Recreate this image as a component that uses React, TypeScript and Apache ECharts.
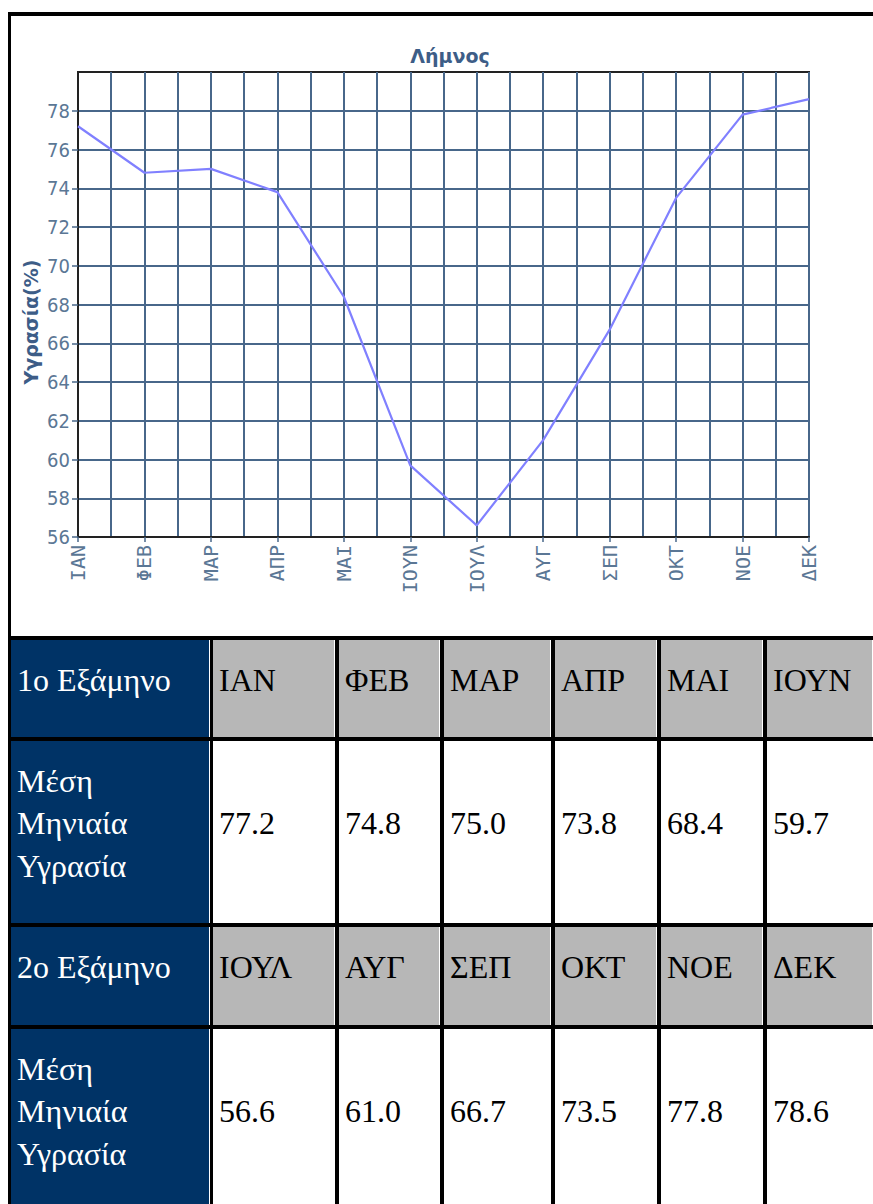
import React, { useEffect, useRef } from "react";
import * as echarts from "echarts";

const chartTitle = "Λήμνος";
const yAxisName = "Υγρασία(%)";
const axisMonths = ["ΙΑΝ", "ΦΕΒ", "ΜΑΡ", "ΑΠΡ", "ΜΑΙ", "ΙΟΥΝ", "ΙΟΥΛ", "ΑΥΓ", "ΣΕΠ", "ΟΚΤ", "ΝΟΕ", "ΔΕΚ"];
const humidity = [77.2, 74.8, 75.0, 73.8, 68.4, 59.7, 56.6, 61.0, 66.7, 73.5, 77.8, 78.6];
const yTickLabels = [56, 58, 60, 62, 64, 66, 68, 70, 72, 74, 76, 78];
const halfLabels = ["1ο Εξάμηνο", "2ο Εξάμηνο"];
const rowLabel = ["Μέση", "Μηνιαία", "Υγρασία"];

const GRID = "#48678a";
const LABEL = "#5b7795";
const NAVY = "#003366";
const GRAY = "#b7b7b7";

// column spans (page x) for table cells
const colX = [
  [11, 210],
  [213, 335],
  [339, 440],
  [444, 551],
  [555, 657],
  [661, 763],
  [767, 873],
];
const rowY = [
  [640, 737],
  [741, 923],
  [927, 1025],
  [1029, 1211],
];

function Cell(props: { x: number[]; y: number[]; bg: string; color: string; children: any }) {
  const { x, y, bg, color, children } = props;
  return (
    <div
      style={{
        position: "absolute",
        left: x[0] - 8,
        top: y[0] - 12,
        width: x[1] - x[0],
        height: y[1] - y[0],
        background: bg,
        color,
        boxSizing: "border-box",
        borderRight: "1px solid #ffffff",
        display: "flex",
        alignItems: "center",
        paddingLeft: 6,
        paddingBottom: 17,
        fontFamily: "'Liberation Serif', 'Times New Roman', serif",
        fontSize: 32,
        lineHeight: "42.5px",
        whiteSpace: "nowrap",
      }}
    >
      <div>{children}</div>
    </div>
  );
}

export default function App() {
  const ref = useRef<HTMLDivElement>(null);

  useEffect(() => {
    if (!ref.current) return;
    const chart = echarts.init(ref.current, null, { renderer: "svg" });
    chart.setOption({
      animation: false,
      backgroundColor: "#ffffff",
      title: {
        text: chartTitle,
        left: 434,
        top: 25,
        textAlign: "center",
        textStyle: { fontFamily: "'DejaVu Sans'", fontWeight: "bold", fontSize: 19, color: "#3d5d87" },
      },
      grid: {
        left: 67,
        top: 56,
        right: 64,
        bottom: 99,
        show: true,
        borderColor: "#222222",
        borderWidth: 2,
        backgroundColor: "#ffffff",
      },
      xAxis: [
        {
          type: "category",
          data: axisMonths,
          boundaryGap: false,
          axisLine: { lineStyle: { color: "#222222", width: 2 } },
          axisTick: { length: 5, lineStyle: { color: GRID, width: 1.5 } },
          axisLabel: {
            rotate: 90,
            margin: 8,
            color: LABEL,
            fontFamily: "'DejaVu Sans Mono'",
            fontSize: 20,
          },
          splitLine: { show: false },
        },
        {
          type: "value",
          min: 0,
          max: 22,
          interval: 1,
          position: "bottom",
          axisLine: { show: false },
          axisTick: { show: false },
          axisLabel: { show: false },
          splitLine: { show: true, lineStyle: { color: GRID, width: 2 } },
        },
      ],
      yAxis: {
        type: "value",
        min: 56,
        max: 80,
        interval: 2,
        axisLine: { show: true, lineStyle: { color: "#222222", width: 2 } },
        axisTick: { show: true, length: 6, customValues: yTickLabels, lineStyle: { color: GRID, width: 1.5 } },
        axisLabel: {
          margin: 8,
          color: LABEL,
          fontFamily: "'DejaVu Sans Condensed', 'DejaVu Sans'",
          fontSize: 20,
          customValues: yTickLabels,
          formatter: (v: number) => (yTickLabels.indexOf(v) >= 0 ? String(v) : ""),
        },
        splitLine: { show: true, lineStyle: { color: GRID, width: 2 } },
      },
      graphic: [
        {
          type: "text",
          x: 20,
          y: 306,
          rotation: Math.PI / 2,
          style: {
            text: yAxisName,
            font: "bold 19px 'DejaVu Sans'",
            fill: "#3d5d87",
            align: "center",
            verticalAlign: "middle",
            textAlign: "center",
            textVerticalAlign: "middle",
          },
        },
      ],
      series: [
        {
          type: "line",
          xAxisIndex: 0,
          data: humidity,
          symbol: "none",
          lineStyle: { color: "#8080ff", width: 2.2 },
        },
      ],
    });
    return () => chart.dispose();
  }, []);

  const halves = [humidity.slice(0, 6), humidity.slice(6, 12)];
  const monthHalves = [axisMonths.slice(0, 6), axisMonths.slice(6, 12)];

  const cells: any[] = [];
  for (let h = 0; h < 2; h++) {
    const headY = rowY[h * 2];
    const valY = rowY[h * 2 + 1];
    cells.push(
      <Cell key={"hl" + h} x={colX[0]} y={headY} bg={NAVY} color="#ffffff">
        {halfLabels[h]}
      </Cell>
    );
    cells.push(
      <Cell key={"rl" + h} x={colX[0]} y={valY} bg={NAVY} color="#ffffff">
        {rowLabel.map((t, i) => (
          <div key={i}>{t}</div>
        ))}
      </Cell>
    );
    for (let i = 0; i < 6; i++) {
      cells.push(
        <Cell key={"m" + h + i} x={colX[i + 1]} y={headY} bg={GRAY} color="#000000">
          {monthHalves[h][i]}
        </Cell>
      );
      cells.push(
        <Cell key={"v" + h + i} x={colX[i + 1]} y={valY} bg="#ffffff" color="#000000">
          {halves[h][i].toFixed(1)}
        </Cell>
      );
    }
  }

  return (
    <div
      style={{
        position: "fixed",
        left: 8,
        top: 12,
        width: 865,
        height: 1192,
        overflow: "hidden",
        background: "#000000",
      }}
    >
      <div
        ref={ref}
        style={{ position: "absolute", left: 3, top: 4, width: 862, height: 620 }}
      />
      {cells}
    </div>
  );
}
